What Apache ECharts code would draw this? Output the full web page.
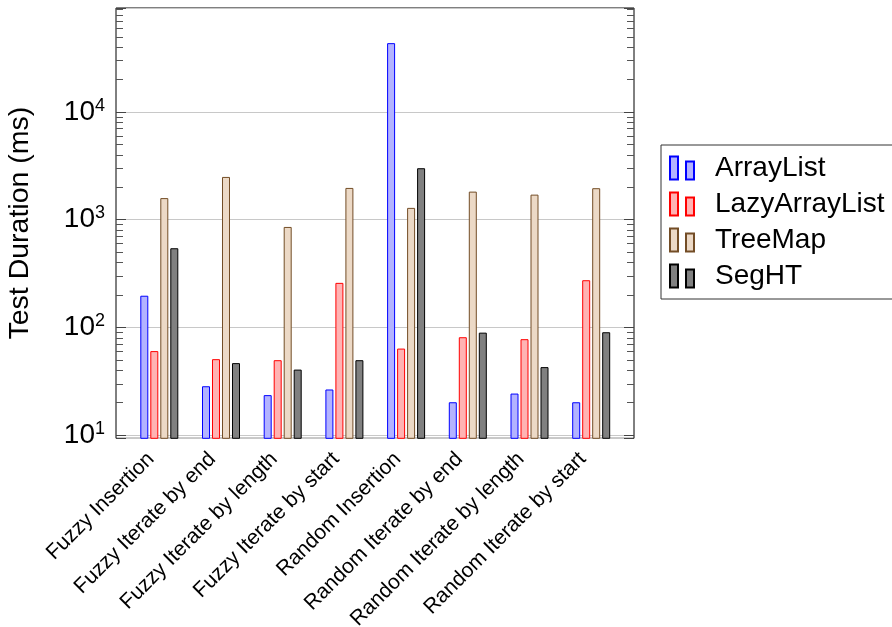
<!DOCTYPE html>
<html><head><meta charset="utf-8">
<script src="https://cdn.jsdelivr.net/npm/echarts@6/dist/echarts.min.js"></script>
<style>html,body{margin:0;padding:0;background:#fff}#c{width:892px;height:627px}</style>
</head><body><div id="c"></div>
<script>
const categories = ['Fuzzy Insertion', 'Fuzzy Iterate by end', 'Fuzzy Iterate by length', 'Fuzzy Iterate by start',
  'Random Insertion', 'Random Iterate by end', 'Random Iterate by length', 'Random Iterate by start'];
const arrayList     = [196, 28.3, 23.4, 26.4, 43400, 20.1, 24.2, 20.1];
const lazyArrayList = [60, 50.5, 49.4, 258, 63.3, 80.7, 77.4, 273];
const treeMap       = [1580, 2485, 853, 1964, 1282, 1815, 1702, 1953];
const segHT         = [541, 46.4, 40.4, 49.4, 2993, 89, 42.6, 89.8];
const minorTickValues = [20, 30, 40, 50, 60, 70, 80, 90,
  200, 300, 400, 500, 600, 700, 800, 900,
  2000, 3000, 4000, 5000, 6000, 7000, 8000, 9000,
  20000, 30000, 40000, 50000, 60000, 70000, 80000, 90000];
const yMin = 9.3, yMax = 92000;

const FONT = 'Liberation Sans';
const chart = echarts.init(document.getElementById('c'), null, {renderer: 'canvas'});
const legendIcon = 'path://M0,0L8,0L8,23L0,23Z M16,5L24,5L24,23L16,23Z';

function supLabel(v) {
  const e = Math.log10(v);
  const r = Math.round(e);
  if (Math.abs(e - r) > 1e-6) return '';
  return '{b|10}{s|' + r + '}';
}

function mkBar(name, data, fill, stroke) {
  return {
    name: name, type: 'bar', xAxisIndex: 1, yAxisIndex: 2, data: data,
    barWidth: 8, barGap: '25%',
    itemStyle: {color: fill, borderColor: stroke, borderWidth: 1},
    emphasis: {disabled: true}
  };
}

const option = {
  animation: false,
  backgroundColor: '#fff',
  textStyle: {fontFamily: FONT},
  grid: [
    {left: 116, top: 8, width: 518, height: 430.3, show: true, borderColor: '#000', borderWidth: 1,
      backgroundColor: 'transparent', containLabel: false, outerBoundsMode: 'none'},
    {left: 128.45, top: 8, width: 493.6, height: 430.3, containLabel: false, outerBoundsMode: 'none'}
  ],
  legend: {
    data: ['ArrayList', 'LazyArrayList', 'TreeMap', 'SegHT'],
    orient: 'vertical', left: 661, top: 145,
    icon: legendIcon, itemWidth: 24, itemHeight: 23, itemGap: 6,
    borderColor: '#333', borderWidth: 1, padding: [8, 12, 8, 8],
    textStyle: {fontFamily: FONT, fontSize: 28, lineHeight: 30, color: '#000', padding: [0, 0, 0, 16]},
    selectedMode: false
  },
  xAxis: [
    {gridIndex: 0, type: 'value', min: 0, max: 1, show: false},
    {gridIndex: 1, type: 'category', data: categories,
      axisLine: {show: false}, axisTick: {show: false}, splitLine: {show: false},
      axisLabel: {rotate: 45, interval: 0, margin: 9, padding: [0, 12, 0, 0], fontFamily: FONT, fontSize: 21, color: '#000'}}
  ],
  yAxis: [
    {gridIndex: 0, type: 'log', logBase: 10, min: yMin, max: yMax, position: 'left',
      name: 'Test Duration (ms)', nameLocation: 'middle', nameGap: 81,
      nameTextStyle: {fontFamily: FONT, fontSize: 28.5, color: '#000'},
      axisLine: {show: false},
      axisTick: {show: true, inside: true, length: 10, lineStyle: {color: '#444', width: 1}},
      splitLine: {show: true, lineStyle: {color: '#c8c8c8', width: 1}},
      minorTick: {show: false},
      axisLabel: {formatter: supLabel, margin: 11, color: '#000',
        rich: {
          b: {fontFamily: FONT, fontSize: 28, lineHeight: 30, color: '#000'},
          s: {fontFamily: FONT, fontSize: 18, lineHeight: 18, verticalAlign: 'top', color: '#000'}
        }}},
    {gridIndex: 0, type: 'log', logBase: 10, min: yMin, max: yMax, position: 'right',
      axisLine: {show: false}, axisLabel: {show: false}, splitLine: {show: false},
      axisTick: {show: true, inside: true, length: 10, lineStyle: {color: '#444', width: 1}}},
    {gridIndex: 1, type: 'log', logBase: 10, min: yMin, max: yMax, show: false, splitLine: {show: false}}
  ],
  series: [
    {
      type: 'custom', name: 'minorTicks', xAxisIndex: 0, yAxisIndex: 0, silent: true, z: 3,
      data: minorTickValues.map(v => [0, v]),
      renderItem: function (params, api) {
        const v = api.value(1);
        const p0 = api.coord([0, v]);
        const p1 = api.coord([1, v]);
        const st = {stroke: '#555', lineWidth: 1};
        const y = Math.round(p0[1]) + 0.5;
        return {type: 'group', children: [
          {type: 'line', shape: {x1: p0[0], y1: y, x2: p0[0] + 7, y2: y}, style: st},
          {type: 'line', shape: {x1: p1[0] - 7, y1: y, x2: p1[0], y2: y}, style: st}
        ]};
      }
    },
    mkBar('ArrayList', arrayList, '#b3b3ff', '#0000ff'),
    mkBar('LazyArrayList', lazyArrayList, '#ffb3b3', '#ff0000'),
    mkBar('TreeMap', treeMap, '#ecd9c6', '#734d26'),
    mkBar('SegHT', segHT, '#808080', '#000000')
  ]
};
chart.setOption(option);
</script></body></html>
